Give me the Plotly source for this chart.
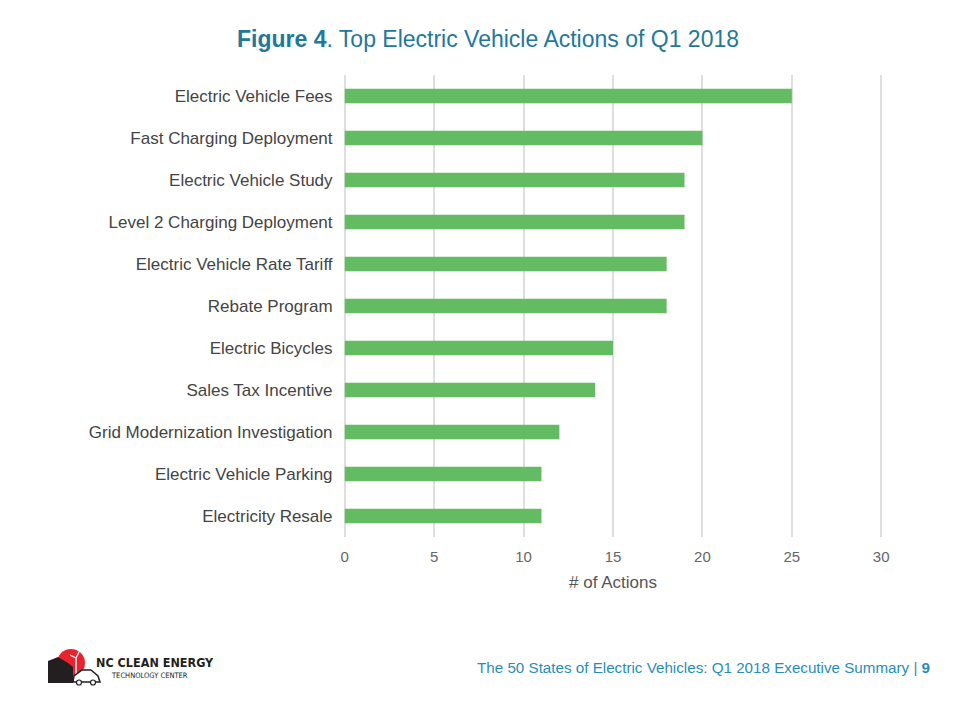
import plotly.graph_objects as go

categories = [
    "Electric Vehicle Fees",
    "Fast Charging Deployment",
    "Electric Vehicle Study",
    "Level 2 Charging Deployment",
    "Electric Vehicle Rate Tariff",
    "Rebate Program",
    "Electric Bicycles",
    "Sales Tax Incentive",
    "Grid Modernization Investigation",
    "Electric Vehicle Parking",
    "Electricity Resale",
]
actions = [25, 20, 19, 19, 18, 18, 15, 14, 12, 11, 11]
x_ticks = [0, 5, 10, 15, 20, 25, 30]

OFF = 8  # page body margin
W, H = 952, 712
L, R, T, B = 335, 77, 67, 183
PW, PH = W - L - R, H - T - B


def px(sx):
    return (sx - OFF - L) / PW


def py(sy):
    return (H - B - (sy - OFF)) / PH


fig = go.Figure(
    go.Bar(
        x=actions,
        y=categories,
        orientation="h",
        marker=dict(color="#64bc62", line=dict(width=0)),
        width=0.34,
    )
)

shapes = []
# logo: red sun
shapes.append(dict(type="circle", xref="paper", yref="paper",
                   x0=px(57), x1=px(85), y0=py(677), y1=py(649),
                   fillcolor="#e8232e", line=dict(width=0), layer="above"))
# building
shapes.append(dict(type="path", xref="paper", yref="paper",
                   path=f"M {px(48)},{py(683)} L {px(48)},{py(661)} L {px(58)},{py(657)} L {px(68)},{py(663)} L {px(73)},{py(667)} L {px(73)},{py(683)} Z",
                   fillcolor="#231f20", line=dict(width=0), layer="above"))
# turbine pole and blades
shapes.append(dict(type="line", xref="paper", yref="paper",
                   x0=px(76), x1=px(76), y0=py(658), y1=py(674),
                   line=dict(color="white", width=1.5), layer="above"))
shapes.append(dict(type="line", xref="paper", yref="paper",
                   x0=px(76), x1=px(80), y0=py(658), y1=py(650),
                   line=dict(color="white", width=1.2), layer="above"))
shapes.append(dict(type="line", xref="paper", yref="paper",
                   x0=px(76), x1=px(70), y0=py(658), y1=py(655),
                   line=dict(color="white", width=1.2), layer="above"))
# car body
shapes.append(dict(type="path", xref="paper", yref="paper",
                   path=f"M {px(73)},{py(682)} L {px(74)},{py(676)} L {px(82)},{py(670)} L {px(91)},{py(670)} L {px(98)},{py(676)} L {px(100)},{py(682)} Z",
                   fillcolor="white", line=dict(color="#231f20", width=1.5), layer="above"))
for cx in (79, 93):
    shapes.append(dict(type="circle", xref="paper", yref="paper",
                       x0=px(cx - 2.5), x1=px(cx + 2.5), y0=py(685), y1=py(680),
                       fillcolor="white", line=dict(color="#231f20", width=1.2), layer="above"))

annotations = [
    dict(text="<b>Figure 4</b>. Top Electric Vehicle Actions of Q1 2018",
         xref="paper", yref="paper", x=px(488), y=py(39), showarrow=False,
         xanchor="center", yanchor="middle",
         font=dict(size=23, color="#23789a", family="Liberation Sans")),
    dict(text="The 50 States of Electric Vehicles: Q1 2018 Executive Summary | <b>9</b>",
         xref="paper", yref="paper", x=px(932), y=py(667), showarrow=False,
         xanchor="right", yanchor="middle",
         font=dict(size=15.2, color="#2b8db5", family="Liberation Sans")),
    dict(text="<b>NC CLEAN ENERGY</b>",
         xref="paper", yref="paper", x=px(94), y=py(662), showarrow=False,
         xanchor="left", yanchor="middle",
         font=dict(size=12.5, color="#231f20", family="DejaVu Sans Condensed")),
    dict(text="TECHNOLOGY CENTER",
         xref="paper", yref="paper", x=px(109), y=py(675), showarrow=False,
         xanchor="left", yanchor="middle",
         font=dict(size=7.5, color="#231f20", family="DejaVu Sans Condensed")),
]

fig.update_layout(
    width=W, height=H,
    margin=dict(l=L, r=R, t=T, b=B, pad=0),
    paper_bgcolor="white", plot_bgcolor="white",
    showlegend=False,
    font=dict(family="Liberation Sans", color="#444444"),
    xaxis=dict(range=[-0.1, 30.1], tickvals=x_ticks, showgrid=True,
               gridcolor="#dedede", gridwidth=1.5,
               zeroline=True, zerolinecolor="#dedede", zerolinewidth=1.5,
               showline=False, ticks="outside", ticklen=6, tickcolor="#ffffff",
               tickfont=dict(size=15, color="#666666"),
               title=dict(text="# of Actions", font=dict(size=17, color="#555555"), standoff=12),
               fixedrange=True),
    yaxis=dict(autorange="reversed", showgrid=False, zeroline=False, showline=False,
               ticks="", ticksuffix="  ", tickfont=dict(size=17, color="#444444"),
               fixedrange=True),
    shapes=shapes,
    annotations=annotations,
)

fig.write_html("out.html")
